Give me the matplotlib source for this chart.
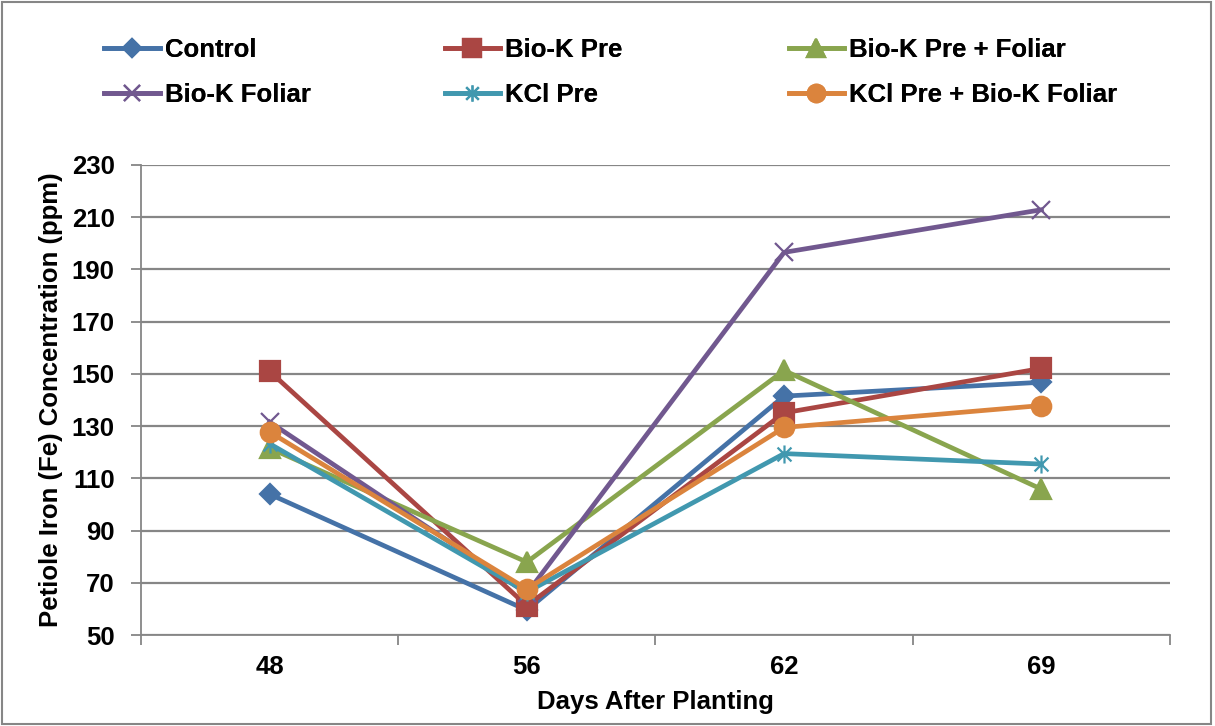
import matplotlib
matplotlib.use("Agg")
import matplotlib.pyplot as plt
from matplotlib.path import Path
from matplotlib.patches import Rectangle

days = ["48", "56", "62", "69"]
control = [104, 59.6, 141.5, 146.8]
biok_pre = [151, 61.3, 135.1, 152.1]
biok_pre_foliar = [121.6, 78, 151.3, 105.9]
biok_foliar = [131.6, 66, 196.5, 212.8]
kcl_pre = [123.3, 66.5, 119.5, 115.5]
kcl_pre_biok_foliar = [127.8, 67.7, 129.5, 137.9]

# asterisk marker like Excel's (x with a vertical bar)
star = Path([(-1, -1), (1, 1), (-1, 1), (1, -1), (0, -1.3), (0, 1.3)],
            [Path.MOVETO, Path.LINETO, Path.MOVETO, Path.LINETO, Path.MOVETO, Path.LINETO])

series = [
    ("Control", control, "#4572A7", "D", 10),
    ("Bio-K Pre", biok_pre, "#AA4643", "s", 14),
    ("Bio-K Pre + Foliar", biok_pre_foliar, "#89A54E", "^", 14),
    ("Bio-K Foliar", biok_foliar, "#71588F", "x", 13),
    ("KCl Pre", kcl_pre, "#4198AF", star, 13),
    ("KCl Pre + Bio-K Foliar", kcl_pre_biok_foliar, "#DB843D", "o", 14),
]

plt.rcParams["font.family"] = ["Liberation Sans", "DejaVu Sans"]
plt.rcParams["font.weight"] = "bold"

fig = plt.figure(figsize=(12.15, 7.26), dpi=100)
ax = fig.add_axes([0.116, 0.125, 0.847, 0.648])

grid_c = "#868686"
x = list(range(len(days)))
handles = []
for name, vals, col, mk, ms in series:
    h, = ax.plot(x, vals, color=col, lw=3.4, marker=mk, markersize=ms,
                 markeredgewidth=1.6, markerfacecolor=col, markeredgecolor=col,
                 label=name, solid_joinstyle="round", clip_on=False)
    handles.append(h)

ax.set_xlim(-0.5, 3.5)
ax.set_ylim(50, 230)
ax.set_yticks(range(50, 231, 20))
ax.set_xticks(x)
ax.set_xticklabels(days)
ax.set_xticks([-0.5, 0.5, 1.5, 2.5, 3.5], minor=True)
ax.tick_params(axis="x", which="major", length=0, pad=14, labelsize=18.5)
ax.tick_params(axis="x", which="minor", length=7, width=1.3, color=grid_c, direction="out")
ax.tick_params(axis="y", length=7, width=1.3, color=grid_c, pad=12, labelsize=18.5)
ax.yaxis.grid(True, color=grid_c, lw=1.6)
ax.set_axisbelow(True)
for s in ["top", "right"]:
    ax.spines[s].set_visible(False)
for s in ["left", "bottom"]:
    ax.spines[s].set_color(grid_c)
    ax.spines[s].set_linewidth(1.3)

ax.set_xlabel("Days After Planting", fontsize=18.5, fontweight="bold", labelpad=8)
ax.set_ylabel("Petiole Iron (Fe) Concentration (ppm)", fontsize=18.5, fontweight="bold", labelpad=6)

# legend as three columns placed like the original
col_x = [0.086, 0.366, 0.649]
for i, cx in enumerate(col_x):
    hs = [handles[i], handles[i + 3]]
    leg = fig.legend(hs, [h.get_label() for h in hs], loc="upper left",
                     bbox_to_anchor=(cx, 0.947), frameon=False, fontsize=18.5,
                     handlelength=2.15, handletextpad=0.2, labelspacing=0.78,
                     borderpad=0, borderaxespad=0, markerscale=0.9)
    fig.add_artist(leg)

fig.patches.append(Rectangle((0.002, 0.003), 0.995, 0.994, transform=fig.transFigure,
                             fill=False, edgecolor=grid_c, lw=1.5))

fig.savefig("out.png", dpi=100)
